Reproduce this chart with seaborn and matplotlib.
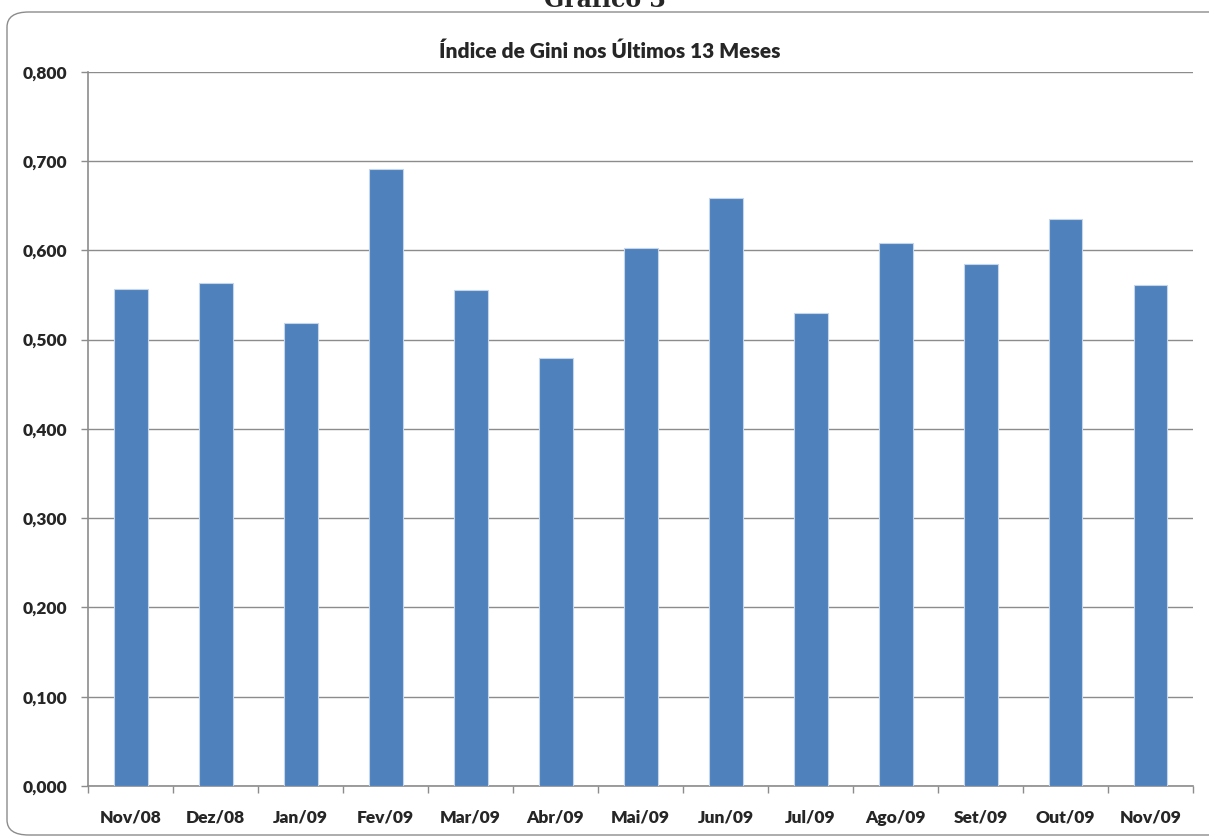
import matplotlib
matplotlib.use("Agg")
import matplotlib.pyplot as plt
from matplotlib.patches import FancyBboxPatch
from matplotlib.ticker import FuncFormatter, FixedLocator
import seaborn as sns
import pandas as pd

months = ["Nov/08", "Dez/08", "Jan/09", "Fev/09", "Mar/09", "Abr/09", "Mai/09",
          "Jun/09", "Jul/09", "Ago/09", "Set/09", "Out/09", "Nov/09"]
gini = [0.557, 0.563, 0.519, 0.691, 0.555, 0.479, 0.602,
        0.659, 0.530, 0.608, 0.585, 0.635, 0.561]
yticks = [0.0, 0.1, 0.2, 0.3, 0.4, 0.5, 0.6, 0.7, 0.8]

sns.set_theme(style="white")
plt.rcParams["font.family"] = ["Lato", "DejaVu Sans"]

fig = plt.figure(figsize=(12.09, 8.39), dpi=100)
frame = FancyBboxPatch((7 / 1209, 4 / 839), 1.2, (827 - 4) / 839,
                       boxstyle="round,pad=0,rounding_size=0.018",
                       transform=fig.transFigure, facecolor="none",
                       edgecolor="#8c8c8c", linewidth=1.0, zorder=-1)
fig.patches.append(frame)

fig.text(0.5, (839 - 7) / 839, "Gráfico 3", ha="center", va="baseline",
         fontsize=17, fontweight="bold", family=["DejaVu Serif"])

ax = fig.add_axes([88 / 1209, (839 - 786) / 839, (1193 - 88) / 1209, (786 - 71.7) / 839])
ax.patch.set_alpha(0)
df = pd.DataFrame({"mes": months, "gini": gini})
sns.barplot(data=df, x="mes", y="gini", color="#4F81BD", saturation=1, width=0.4,
            edgecolor="#c5d5ea", linewidth=0.8, ax=ax, zorder=3)

ax.set_xlim(-0.5, len(months) - 0.5)
ax.set_ylim(0, 0.8)
ax.set_yticks(yticks)
ax.yaxis.set_major_formatter(FuncFormatter(lambda v, p: f"{v:.3f}".replace(".", ",")))
ax.grid(axis="y", color="#8c8c8c", linewidth=1.0, zorder=1)
ax.set_axisbelow(True)
ax.set_xlabel("")
ax.set_ylabel("")
for s in ["top", "right"]:
    ax.spines[s].set_visible(False)
for s in ["left", "bottom"]:
    ax.spines[s].set_color("#8c8c8c")
    ax.spines[s].set_linewidth(1.2)

ax.xaxis.set_minor_locator(FixedLocator([i - 0.5 for i in range(len(months) + 1)]))
ax.tick_params(axis="x", which="major", length=0, pad=17, labelsize=12.5)
ax.tick_params(axis="x", which="minor", length=5, color="#8c8c8c", width=1, direction="out", bottom=True)
ax.tick_params(axis="y", which="major", length=5, color="#8c8c8c", width=1, direction="out",
               left=True, pad=10, labelsize=12.5)
for lab in ax.get_xticklabels() + ax.get_yticklabels():
    lab.set_fontweight("heavy")

fig.text(610 / 1209, (839 - 51) / 839, "Índice de Gini nos Últimos 13 Meses",
         ha="center", va="center", fontsize=15, fontweight="heavy")

fig.savefig("out.png", dpi=100)
